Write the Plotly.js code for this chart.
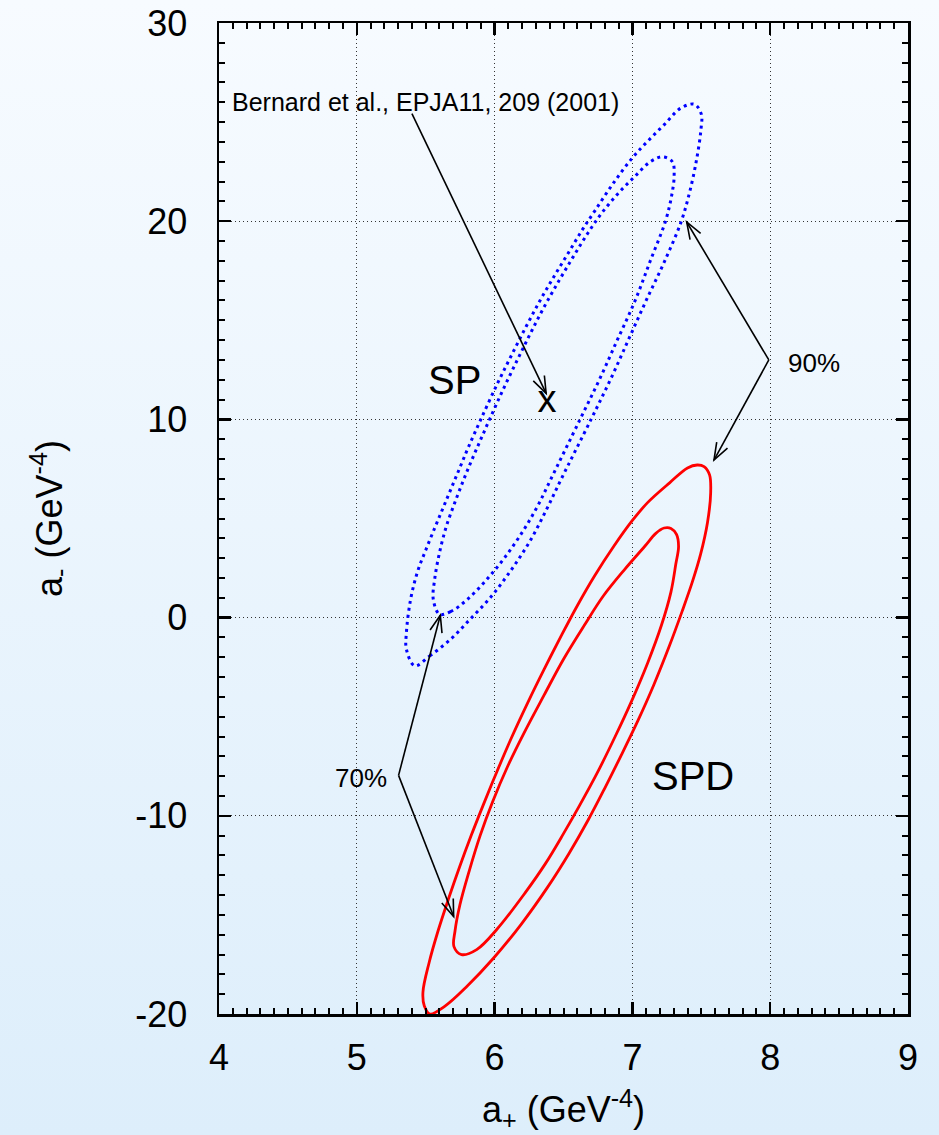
<!DOCTYPE html>
<html>
<head>
<meta charset="utf-8">
<script src="https://cdn.plot.ly/plotly-3.0.1.min.js"></script>
<style>
  html, body { margin: 0; padding: 0; }
  body { width: 939px; height: 1135px; background: linear-gradient(180deg, #f7fbff 0%, #ddeefb 100%); }
  #chart { width: 939px; height: 1135px; }
</style>
</head>
<body>
<div id="chart"></div>
<script>
// ---- Data (a+ , a- in GeV^-4) ----
// SPD fit, 90% contour (outer red)
const spd90_x = [5.53,5.64,5.80,5.99,6.19,6.385,6.54,6.68,6.80,6.915,7.04,7.155,7.27,7.36,7.435,7.495,7.545,7.568,7.56,7.52,7.47,7.40,7.27,7.11,7.00,6.865,6.725,6.60,6.485,6.36,6.24,6.12,6.015,5.915,5.83,5.745,5.665,5.59,5.525,5.48,5.49,5.53];
const spd90_y = [-20.0,-19.6,-18.6,-17.2,-15.5,-13.6,-11.9,-10.2,-8.6,-7.0,-5.2,-3.4,-1.4,0.3,1.8,3.2,4.8,6.3,7.2,7.62,7.7,7.55,6.8,5.8,4.9,3.6,2.1,0.6,-0.9,-2.6,-4.3,-6.1,-7.8,-9.5,-11.0,-12.6,-14.2,-15.8,-17.4,-18.9,-19.6,-20.0];
// SPD fit, 70% contour (inner red)
const spd70_x = [5.76,5.87,6.02,6.22,6.37,6.50,6.615,6.74,6.875,6.995,7.11,7.21,7.28,7.315,7.335,7.32,7.28,7.23,7.17,7.09,6.94,6.79,6.65,6.50,6.36,6.215,6.095,5.985,5.895,5.815,5.748,5.713,5.705,5.76];
const spd70_y = [-17.0,-16.75,-15.7,-13.9,-12.4,-10.9,-9.5,-7.9,-6.0,-4.2,-2.3,-0.4,1.3,2.7,3.6,4.2,4.5,4.52,4.25,3.6,2.4,1.1,-0.4,-2.1,-3.9,-5.8,-7.5,-9.3,-11.0,-12.8,-14.5,-15.8,-16.6,-17.0];
// SP fit, 90% contour (outer blue)
const sp90_x = [5.42,5.53,5.68,5.82,5.98,6.13,6.26,6.38,6.48,6.70,6.84,6.97,7.10,7.235,7.355,7.42,7.468,7.497,7.50,7.45,7.35,7.235,7.12,7.00,6.86,6.73,6.635,6.535,6.43,6.33,6.23,6.12,6.02,5.90,5.81,5.75,5.69,5.63,5.57,5.50,5.44,5.39,5.36,5.36,5.42];
const sp90_y = [-2.43,-1.93,-1.1,-0.1,1.1,2.5,3.9,5.5,6.94,10.0,12.0,14.0,16.0,18.0,20.0,21.6,23.2,24.6,25.4,25.9,25.7,24.9,24.1,23.2,21.9,20.55,19.55,18.4,17.2,16.0,14.7,13.2,11.8,10.0,8.6,7.6,6.6,5.6,4.6,3.4,2.3,0.9,-0.75,-1.6,-2.43];
// SP fit, 70% contour (inner blue)
const sp70_x = [5.60,5.68,5.80,5.94,6.07,6.20,6.31,6.405,6.62,6.76,6.89,7.02,7.13,7.24,7.285,7.303,7.29,7.22,7.13,7.015,6.895,6.775,6.675,6.57,6.47,6.36,6.26,6.165,6.06,5.97,5.90,5.835,5.775,5.71,5.65,5.60,5.565,5.555,5.60];
const sp70_y = [0.17,0.3,0.9,1.9,3.0,4.3,5.6,6.94,10.0,12.0,14.0,16.0,18.0,20.0,21.3,22.3,23.0,23.25,23.0,22.24,21.39,20.39,19.38,18.2,17.03,15.68,14.34,13.0,11.48,10.1,9.0,7.96,6.95,5.78,4.61,3.27,1.93,0.92,0.17];
// Bernard et al., EPJA11, 209 (2001) point
const bernard_x = [6.38];
const bernard_y = [10.85];
// Axis ticks
const xTicks = [4, 5, 6, 7, 8, 9];
const yTicks = [-20, -10, 0, 10, 20, 30];

const FONT = 'Liberation Sans, Arial, Helvetica, sans-serif';
const X_RANGE = [4, 9], Y_RANGE = [-20, 30];
const MARGIN = { l: 219, r: 31, t: 23, b: 121 };
const W = 939, H = 1135;

const traces = [
  { x: sp90_x, y: sp90_y, mode: 'lines', name: 'SP 90%',
    line: { color: '#0000ff', width: 3, dash: '3px,4px', shape: 'spline', smoothing: 1 }, hoverinfo: 'skip' },
  { x: sp70_x, y: sp70_y, mode: 'lines', name: 'SP 70%',
    line: { color: '#0000ff', width: 3, dash: '3px,4px', shape: 'spline', smoothing: 1 }, hoverinfo: 'skip' },
  { x: spd90_x, y: spd90_y, mode: 'lines', name: 'SPD 90%',
    line: { color: '#ff0000', width: 2.8, shape: 'spline', smoothing: 1 }, hoverinfo: 'skip' },
  { x: spd70_x, y: spd70_y, mode: 'lines', name: 'SPD 70%',
    line: { color: '#ff0000', width: 2.8, shape: 'spline', smoothing: 1 }, hoverinfo: 'skip' },
  { x: bernard_x, y: bernard_y, mode: 'text', text: ['x'], textposition: 'middle center',
    textfont: { family: FONT, size: 38, color: '#000' }, name: 'Bernard et al.', hoverinfo: 'skip' }
];

// Arrow helper: a line from tail to head plus an open "V" head, sized in pixels
const kx = (W - MARGIN.l - MARGIN.r) / (X_RANGE[1] - X_RANGE[0]);
const ky = (H - MARGIN.t - MARGIN.b) / (Y_RANGE[1] - Y_RANGE[0]);
function arrowShapes(tx, ty, hx, hy) {
  const dx = (hx - tx) * kx, dy = (hy - ty) * ky;
  const len = Math.hypot(dx, dy);
  const ux = dx / len, uy = dy / len;
  const L = 18, a = 20 * Math.PI / 180;
  const pts = [a, -a].map(function (t) {
    const rx = ux * Math.cos(t) - uy * Math.sin(t);
    const ry = ux * Math.sin(t) + uy * Math.cos(t);
    return [hx - L * rx / kx, hy - L * ry / ky];
  });
  const st = { color: '#000', width: 1.6 };
  return [
    { type: 'line', xref: 'x', yref: 'y', x0: tx, y0: ty, x1: hx, y1: hy, line: st, layer: 'above' },
    { type: 'path', xref: 'x', yref: 'y', layer: 'above', line: st,
      path: 'M' + pts[0][0] + ',' + pts[0][1] + 'L' + hx + ',' + hy + 'L' + pts[1][0] + ',' + pts[1][1] }
  ];
}

const shapes = [].concat(
  arrowShapes(5.40, 25.43, 6.374, 11.31),
  arrowShapes(7.99, 13.0, 7.394, 19.96),
  arrowShapes(7.99, 13.0, 7.592, 7.95),
  arrowShapes(5.303, -7.96, 5.606, 0.12),
  arrowShapes(5.303, -7.96, 5.703, -15.08)
);

function label(txt, x, y, size, xanchor) {
  return { x: x, y: y, xref: 'x', yref: 'y', text: txt, showarrow: false,
    xanchor: xanchor || 'center', yanchor: 'middle', font: { family: FONT, size: size, color: '#000' } };
}

const annotations = [
  label('Bernard et al., EPJA11, 209 (2001)', 4.08, 26.0, 25, 'left'),
  label('SP', 5.71, 12.0, 40),
  label('SPD', 7.44, -8.0, 40),
  label('90%', 8.32, 12.85, 26),
  label('70%', 5.03, -8.1, 26)
];

const axisCommon = {
  showline: true, linecolor: '#000', linewidth: 2.5, mirror: 'ticks',
  ticks: 'inside', ticklen: 12, tickwidth: 2.5, tickcolor: '#000',
  showgrid: true, gridcolor: '#333', gridwidth: 1, griddash: '1px,3px',
  zeroline: false, tickfont: { family: FONT, size: 36, color: '#000' },
  fixedrange: true
};

const layout = {
  width: W, height: H,
  margin: { l: MARGIN.l, r: MARGIN.r, t: MARGIN.t, b: MARGIN.b, pad: 0 },
  paper_bgcolor: 'rgba(0,0,0,0)', plot_bgcolor: 'rgba(0,0,0,0)',
  showlegend: false,
  font: { family: FONT, color: '#000' },
  xaxis: Object.assign({}, axisCommon, {
    range: X_RANGE, tickmode: 'array', tickvals: xTicks, ticktext: xTicks.map(String),
    ticklabelstandoff: 10,
    minor: { dtick: 0.1, ticks: 'inside', ticklen: 6, tickwidth: 2, tickcolor: '#000', showgrid: false },
    title: { text: 'a<sub>+</sub> (GeV<sup>-4</sup>)', font: { family: FONT, size: 36, color: '#000' }, standoff: 20 }
  }),
  yaxis: Object.assign({}, axisCommon, {
    range: Y_RANGE, tickmode: 'array', tickvals: yTicks, ticktext: yTicks.map(String),
    ticklabelstandoff: 22,
    minor: { dtick: 1, ticks: 'inside', ticklen: 6, tickwidth: 2, tickcolor: '#000', showgrid: false },
    title: { text: 'a<sub>-</sub> (GeV<sup>-4</sup>)', font: { family: FONT, size: 36, color: '#000' }, standoff: 62 }
  }),
  shapes: shapes,
  annotations: annotations
};

Plotly.newPlot('chart', traces, layout, { staticPlot: true, displayModeBar: false });
</script>
</body>
</html>
